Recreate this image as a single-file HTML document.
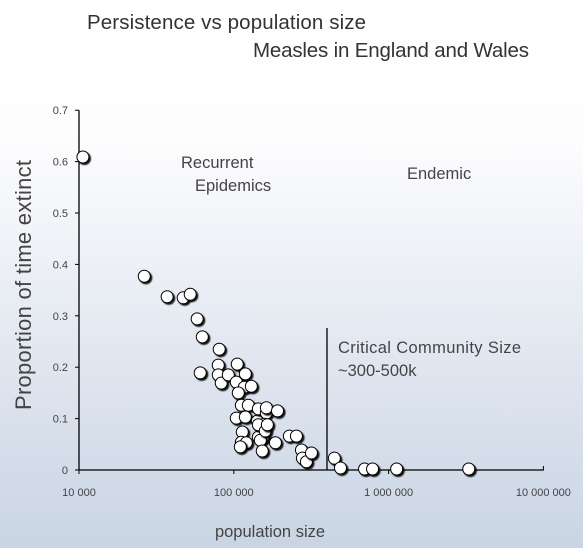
<!DOCTYPE html>
<html><head><meta charset="utf-8"><style>
body{margin:0}
#wrap{width:583px;height:548px;position:relative;overflow:hidden;background:linear-gradient(#ffffff 0%,#fdfdfe 25%,#c9d4e4 100%);font-family:"Liberation Sans",sans-serif;color:#444}
</style></head><body>
<div id="wrap">
<svg id="svg" width="583" height="548">
<defs><filter id="sh" x="-50%" y="-50%" width="200%" height="200%"><feDropShadow dx="1.6" dy="1.6" stdDeviation="0.4" flood-color="#000" flood-opacity="0.9"/></filter></defs>
<text x="87" y="29" font-size="20.5" fill="#333" textLength="279">Persistence vs population size</text>
<text x="253" y="57" font-size="20.5" fill="#333" textLength="276">Measles in England and Wales</text>
<text x="181" y="168" font-size="16.5" fill="#444">Recurrent</text>
<text x="195" y="191" font-size="16.5" fill="#444">Epidemics</text>
<text x="407" y="179" font-size="16.5" fill="#444">Endemic</text>
<text x="338" y="353" font-size="16.5" fill="#444" textLength="183">Critical Community Size</text>
<text x="338" y="376" font-size="16.5" fill="#444">~300-500k</text>
<text x="270" y="537" font-size="16.5" fill="#444" text-anchor="middle">population size</text>
<text transform="translate(31,285) rotate(-90)" font-size="22" fill="#444" text-anchor="middle" textLength="250">Proportion of time extinct</text>
<g id="axes"></g><g id="pts"></g>
</svg></div>
<script>
const xTicks=[10000,100000,1000000,10000000];
const xTickLabels=["10 000","100 000","1 000 000","10 000 000"];
const yTicks=[0,0.1,0.2,0.3,0.4,0.5,0.6,0.7];
const yTickLabels=["0","0.1","0.2","0.3","0.4","0.5","0.6","0.7"];
const population=[10600,26400,37100,47100,52300,58000,62600,60700,80500,79400,79400,83000,92100,105300,118700,103800,116900,129800,106900,111900,124100,103800,118700,141900,144100,162300,157400,155100,162300,191600,144100,148500,113500,111900,120500,110200,152700,185800,144100,159800,164800,228500,253800,273600,277400,294400,317400,446300,488800,699300,787600,1127000,3295000];
const proportion=[0.609,0.377,0.337,0.335,0.342,0.294,0.259,0.189,0.235,0.204,0.185,0.169,0.185,0.206,0.187,0.171,0.161,0.163,0.150,0.126,0.126,0.101,0.103,0.095,0.119,0.111,0.089,0.064,0.121,0.115,0.064,0.058,0.074,0.054,0.053,0.045,0.037,0.053,0.088,0.076,0.088,0.066,0.066,0.039,0.023,0.016,0.033,0.023,0.004,0.002,0.002,0.002,0.002];
const ccs=[400000];
const NS="http://www.w3.org/2000/svg";
const X=v=>79+(Math.log10(v)-4)*154.8;
const Y=v=>470-v*514;
function mk(t,a,p){const e=document.createElementNS(NS,t);for(const k in a)e.setAttribute(k,a[k]);p.appendChild(e);return e;}
const ax=document.getElementById('axes');
let l=mk('line',{x1:79,y1:470,x2:544,y2:470,stroke:'#000','stroke-width':1.3},ax);


l=mk('line',{x1:79,y1:Y(0.7),x2:79,y2:470,stroke:'#000','stroke-width':1.3},ax);


yTicks.forEach((v,i)=>{mk('line',{x1:75,y1:Y(v),x2:79,y2:Y(v),stroke:'#000'},ax);
const t=mk('text',{x:68,y:Y(v)+4,'font-size':11,'text-anchor':'end',fill:'#444'},ax);t.textContent=yTickLabels[i];

});
xTicks.forEach((v,i)=>{mk('line',{x1:X(v),y1:i==3?466:470,x2:X(v),y2:i==3?470:474,stroke:'#000'},ax);
const t=mk('text',{x:X(v),y:496,'font-size':11,'text-anchor':'middle',fill:'#444'},ax);t.textContent=xTickLabels[i];

});
l=mk('line',{x1:X(ccs[0]),y1:328,x2:X(ccs[0]),y2:470,stroke:'#000','stroke-width':1.3},ax);


const pg=document.getElementById('pts');
population.forEach((p,i)=>{const c=mk('circle',{cx:X(p),cy:Y(proportion[i]),r:6,fill:'#fff',stroke:'#000','stroke-width':1,filter:'url(#sh)'},pg);

});
</script></body></html>
